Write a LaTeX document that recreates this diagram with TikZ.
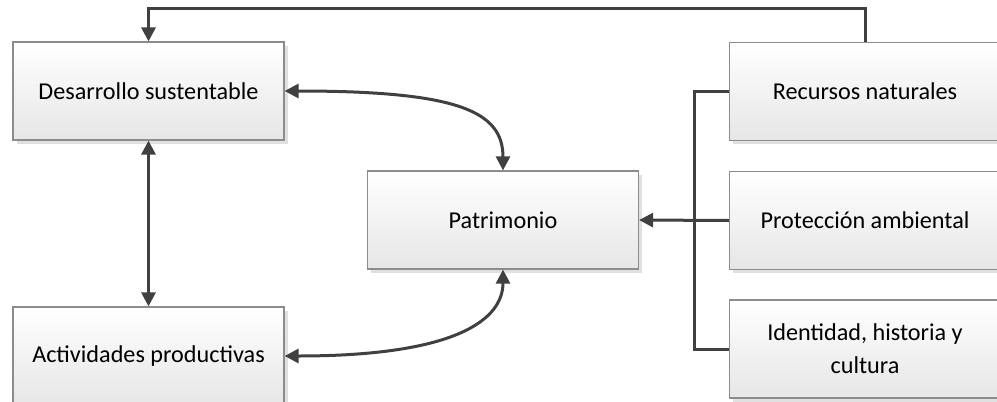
\documentclass[tikz,border=0pt]{standalone}
\usepackage{fontspec}
\setmainfont{Carlito}
\usetikzlibrary{arrows.meta,shadows}
\definecolor{linegray}{HTML}{404040}
\definecolor{edgegray}{HTML}{8C8C8C}
\definecolor{shadegray}{HTML}{E6E6E6}
\tikzset{
  box/.style={rectangle, minimum width=271pt, minimum height=98pt, inner sep=0pt,
    draw=edgegray, line width=1.2pt, top color=white, bottom color=shadegray,
    align=center, font=\fontsize{24.2}{33}\selectfont,
    drop shadow={shadow xshift=3.5pt, shadow yshift=-3.5pt, fill=black!12, opacity=1}},
  conn/.style={draw=linegray, line width=3pt},
  tip/.style={-{Triangle[length=14pt,width=14pt]}},
  tips/.style={{Triangle[length=14pt,width=14pt]}-{Triangle[length=14pt,width=14pt]}}
}
\begin{document}
\begin{tikzpicture}[x=1pt,y=-1pt]
\useasboundingbox (0,0) rectangle (997,402);
% boxes
\node[box] (D) at (148.5,91) {Desarrollo sustentable};
\node[box] (A) at (148.5,356) {Actividades productivas};
\node[box] (P) at (503,220) {Patrimonio};
\node[box] (R) at (865,91.5) {Recursos naturales};
\node[box] (Pr) at (865,220.5) {Protección ambiental};
\node[box] (I) at (865,349) {Identidad, historia y\\cultura};
% feedback from natural resources to sustainable development
\draw[conn,tip] (R.north) -- ++(0,-33) -| (D.north);
% link between sustainable development and production
\draw[conn,tips] (D.south) -- (A.north);
% curved links to heritage
\draw[conn,tips] (D.east) .. controls (460,91) and (503,112) .. (P.north);
\draw[conn,tips] (A.east) .. controls (460,356) and (503,318) .. (P.south);
% bus collecting the three components
\draw[conn] (R.west) -- ++(-34,0) |- (I.west);
\draw[conn,tip] (Pr.west) -- (P.east);
\end{tikzpicture}
\end{document}
